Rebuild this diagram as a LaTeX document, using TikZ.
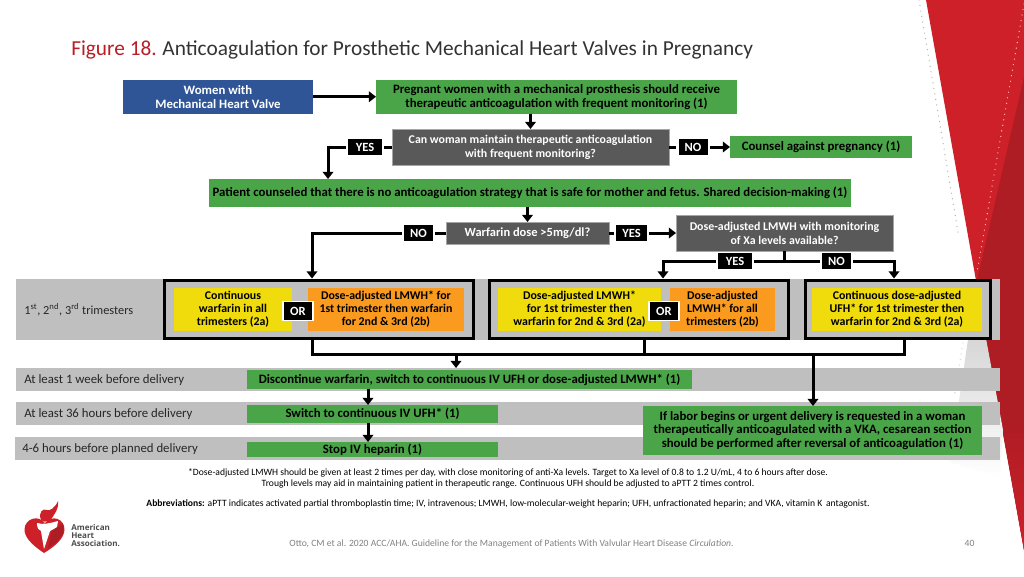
\documentclass[tikz,border=0pt]{standalone}
\usepackage{fontspec}
\setmainfont{Carlito}
\newfontfamily\logofont{Open Sans}
\usetikzlibrary{arrows.meta}
\definecolor{ahared}{HTML}{CE2029}
\definecolor{ahadark}{HTML}{AE1C24}
\definecolor{boxgreen}{HTML}{4AA548}
\definecolor{boxgrey}{HTML}{595959}
\definecolor{boxblue}{HTML}{2F5597}
\definecolor{bandgrey}{HTML}{BFBFBF}
\definecolor{boxyellow}{HTML}{F0DC0C}
\definecolor{boxorange}{HTML}{FA9A1E}
\tikzset{
	boxsize/.style 2 args={minimum width=#1*.75pt, minimum height=#2*.75pt},
	plainbox/.style={inner sep=0, outer sep=0, align=center, font=\fontsize{9.6}{10.4}\selectfont\bfseries},
	greenbox/.style={plainbox, fill=boxgreen, text=black},
	greybox/.style={plainbox, fill=boxgrey, draw=black!35, line width=.5pt, text=white, font=\fontsize{8.9}{10.4}\selectfont\bfseries},
	bluebox/.style={plainbox, fill=boxblue, text=white},
	yellowbox/.style={plainbox, fill=boxyellow, text=black, font=\fontsize{8.9}{9.75}\selectfont\bfseries},
	orangebox/.style={plainbox, fill=boxorange, text=black, font=\fontsize{8.9}{9.75}\selectfont\bfseries},
	tag/.style={plainbox, fill=black, text=white, outer sep=1.8pt, font=\fontsize{9.4}{10.4}\selectfont\bfseries},
	ortag/.style={plainbox, fill=black, text=white, draw=white, line width=1.2pt, font=\fontsize{9.4}{10.4}\selectfont\bfseries},
	band/.style={fill=bandgrey, inner sep=0, outer sep=0},
	bandtext/.style={inner sep=0, anchor=west, text=black!85, font=\fontsize{9.6}{11}\selectfont},
	frame/.style={draw=black, line width=2.25pt, inner sep=0, outer sep=0},
	link/.style={line width=2.25pt, draw=black},
	flow/.style={link, -{Triangle[length=5.4pt,width=8pt]}},
	note/.style={inner sep=0, align=center, text=black, font=\fontsize{7.22}{8}\selectfont},
	trail/.style={line cap=round, line width=1pt, dash pattern=on 0pt off 4.2pt}
}
\begin{document}
\begin{tikzpicture}[x=.75pt, y=-.75pt]
	\useasboundingbox (0,0) rectangle (1024,576);
	%%%%% BACKDROP %%%%%
	\fill[ahared] (926,0) -- (1024,0) -- (1024,550) -- cycle;
	\fill[ahadark] (1024,77) -- (976,285) -- (1024,550) -- cycle;
	\shade[top color=ahadark, bottom color=ahared] (1001,420) -- (1024,420) -- (1024,550) -- cycle;
	\shade[top color=black!22, bottom color=white] (976,285) -- (1003,430) -- (1000,478) -- (950,462) -- cycle;
	\draw[trail, draw=black!32] (919,0) -- (958,232);
	\draw[trail, draw=black!18] (963,343) -- (954,398);
	\draw[trail, draw=red!25!white] (1024,4) -- (977,272);
	%%%%% TITLE %%%%%
	\node[inner sep=0, anchor=base west, font=\fontsize{16}{18}\selectfont] (title) at (71,55)
		{\textcolor{ahared!90!black}{Figure 18.}\hspace{-.6pt} \textcolor{black!80}{Anticoagulation for Prosthetic Mechanical Heart Valves in Pregnancy}};
	%%%%% BANDS %%%%%
	\node[band, boxsize={984}{61}] (bandA) at (508,309.5) {};
	\node[band, boxsize={984}{23}] (bandB) at (508,379.5) {};
	\node[band, boxsize={984}{23}] (bandC) at (508,413.5) {};
	\node[band, boxsize={985}{23}] (bandD) at (507.5,448.5) {};
	\node[bandtext, font=\fontsize{9.25}{11}\selectfont] (bandtextA) at (24,310) {1\textsuperscript{st}, 2\textsuperscript{nd}, 3\textsuperscript{rd} trimesters};
	\node[bandtext] (bandtextB) at (24,380.5) {At least 1 week before delivery};
	\node[bandtext] (bandtextC) at (24,414.5) {At least 36 hours before delivery};
	\node[bandtext] (bandtextD) at (22,449.5) {4-6 hours before planned delivery};
	%%%%% TOP OF THE CHART %%%%%
	\node[bluebox, boxsize={190}{33.5}] (women) at (218,96.75) {Women with\\Mechanical Heart Valve};
	\node[greenbox, boxsize={361}{33.5}] (pregnant) at (556.5,96.75) {Pregnant women with a mechanical prosthesis should receive\\therapeutic anticoagulation with frequent monitoring (1)};
	\node[greybox, boxsize={277}{36}] (maintain) at (530.5,147) {Can woman maintain therapeutic anticoagulation\\with frequent monitoring?};
	\node[tag, boxsize={34}{15.5}] (yesA) at (365,147) {YES};
	\node[tag, boxsize={29}{15.5}] (noA) at (693,147) {NO};
	\node[greenbox, boxsize={182}{21.5}] (counsel) at (821,147) {Counsel against pregnancy (1)};
	\node[greenbox, boxsize={642}{27.5}] (patient) at (530,192.75) {Patient counseled that there is no anticoagulation strategy that is safe for mother and fetus. Shared decision-making (1)};
	\node[greybox, boxsize={163}{22}, font=\fontsize{9.35}{10.4}\selectfont\bfseries] (warfarin) at (527.5,233) {Warfarin dose >5mg/dl?};
	\node[tag, boxsize={29}{15.5}] (noB) at (418.5,233) {NO};
	\node[tag, boxsize={31}{15.5}] (yesB) at (631.5,233) {YES};
	\node[greybox, boxsize={217}{36}] (levels) at (784.5,233) {Dose-adjusted LMWH with monitoring\\of Xa levels available?};
	\node[tag, boxsize={34}{16}] (yesC) at (735,261) {YES};
	\node[tag, boxsize={29}{16}] (noC) at (836.5,261) {NO};
	%%%%% TREATMENT ROW %%%%%
	\node[frame, boxsize={309}{58}] (frameA) at (319.25,309) {};
	\node[frame, boxsize={299}{58}] (frameB) at (639,309) {};
	\node[frame, boxsize={185}{58}] (frameC) at (897.5,309) {};
	\node[yellowbox, boxsize={118}{43}] (contwarf) at (233,309.5) {Continuous\\warfarin in all\\trimesters (2a)};
	\node[orangebox, boxsize={156}{43}] (lmwhwarf) at (386,309.5) {Dose-adjusted LMWH* for\\1st trimester then warfarin\\for 2nd \& 3rd (2b)};
	\node[ortag, boxsize={30}{19}] (orA) at (298,311) {OR};
	\node[yellowbox, boxsize={163}{43}] (lmwhfirst) at (579.5,309.5) {Dose-adjusted LMWH*\\for 1st trimester then\\warfarin for 2nd \& 3rd (2a)};
	\node[orangebox, boxsize={105}{43}] (lmwhall) at (722.5,309.5) {Dose-adjusted\\LMWH* for all\\trimesters (2b)};
	\node[ortag, boxsize={30}{19}] (orB) at (664,311) {OR};
	\node[yellowbox, boxsize={170}{43}] (ufh) at (897,309.5) {Continuous dose-adjusted\\UFH* for 1st trimester then\\warfarin for 2nd \& 3rd (2a)};
	%%%%% DELIVERY %%%%%
	\node[greenbox, boxsize={445}{18.5}] (discontinue) at (469.5,379.5) {Discontinue warfarin, switch to continuous IV UFH or dose-adjusted LMWH* (1)};
	\node[greenbox, boxsize={251}{18}] (switch) at (372.5,414) {Switch to continuous IV UFH* (1)};
	\node[greenbox, boxsize={251}{15}] (stop) at (372.5,449.5) {Stop IV heparin (1)};
	\node[greenbox, boxsize={339}{49}] (labor) at (812.5,430.5) {If labor begins or urgent delivery is requested in a woman\\therapeutically anticoagulated with a VKA, cesarean section\\should be performed after reversal of anticoagulation (1)};
	%%%%% CONNECTORS %%%%%
	\coordinate (turnA) at (328,179);
	\coordinate (dropA) at (312,278.5);
	\coordinate (dropB) at (663,278.5);
	\coordinate (dropC) at (894,278.5);
	\coordinate (busA) at (312,354);
	\coordinate (busB) at (644,354);
	\coordinate (busC) at (904,354);
	\coordinate (busD) at (456,354);
	\coordinate (busE) at (813,354);
	\coordinate (stem) at (368,390);
	\draw[flow] (women) -- (pregnant);
	\draw[flow] (maintain |- pregnant.south) -- (maintain.north);
	\draw[link] (maintain) -- (yesA);
	\draw[flow] (yesA) -| (turnA);
	\draw[link] (maintain) -- (noA);
	\draw[flow] (noA) -- (counsel);
	\draw[flow] (warfarin |- patient.south) -- (warfarin.north);
	\draw[link] (warfarin) -- (noB);
	\draw[flow] (noB) -| (dropA);
	\draw[link] (warfarin) -- (yesB);
	\draw[flow] (yesB) -- (levels);
	\draw[link] (levels.south) -- (levels.south |- yesC);
	\draw[link] (yesC) -- (noC);
	\draw[flow] (yesC) -| (dropB);
	\draw[flow] (noC) -| (dropC);
	\draw[link] (busA |- frameA.south) -- (busA) -- (busC) -- (busC |- frameC.south);
	\draw[link] (busB |- frameB.south) -- (busB);
	\draw[flow] (busD) -- (busD |- bandB.north);
	\draw[flow] (busE) -- (busE |- labor.north);
	\draw[flow] (stem |- discontinue.south) -- (stem |- switch.north);
	\draw[flow] (stem |- switch.south) -- (stem |- stop.north);
	%%%%% NOTES %%%%%
	\node[note] (starnote) at (508,478.5) {*Dose-adjusted LMWH should be given at least 2 times per day, with close monitoring of anti-Xa levels. Target to Xa level of 0.8 to 1.2 U/mL, 4 to 6 hours after dose.\\Trough levels may aid in maintaining patient in therapeutic range. Continuous UFH should be adjusted to aPTT 2 times control.};
	\node[note] (abbrev) at (508,504) {\textbf{Abbreviations:} aPTT indicates activated partial thromboplastin time; IV, intravenous; LMWH, low-molecular-weight heparin; UFH, unfractionated heparin; and VKA, vitamin K\, antagonist.};
	\node[note, text=black!50] (source) at (511.5,543.5) {Otto, CM et al. 2020 ACC/AHA. Guideline for the Management of Patients With Valvular Heart Disease \textit{Circulation}.};
	\node[note, text=black!50] (pagenum) at (969.5,543.5) {40};
	%%%%% LOGO %%%%%
	\fill[ahared] (44,553) .. controls (32,545) and (24,537) .. (24.5,529) .. controls (25,519) and (38,514) .. (45,523) .. controls (52,514) and (65,519) .. (64.5,530) .. controls (64,539) and (54,547) .. (44,553) -- cycle;
	\fill[ahadark] (48,548) -- (52,530) -- (63,524) .. controls (66,534) and (58,543) .. (48,548) -- cycle;
	\fill[white] (37,523) .. controls (43,525) and (51,523) .. (58,521) -- (57,527) .. controls (54,529) and (52,530) .. (50,531) -- (44,549) -- (41,531) .. controls (39,530) and (37,529) .. (37,523) -- cycle;
	\fill[ahared] (41,520) .. controls (38,512) and (43,508) .. (47,510) .. controls (50,511) and (55,508) .. (58,501) .. controls (59,510) and (54,514) .. (52,518) -- (49,521) .. controls (46,522) and (43,522) .. (41,520) -- cycle;
	\node[inner sep=0, anchor=north west, align=left, text=black!70, font=\logofont\fontsize{6.05}{6}\selectfont\bfseries] (logotext) at (71,524) {American\\Heart\\Association.};
\end{tikzpicture}
\end{document}
